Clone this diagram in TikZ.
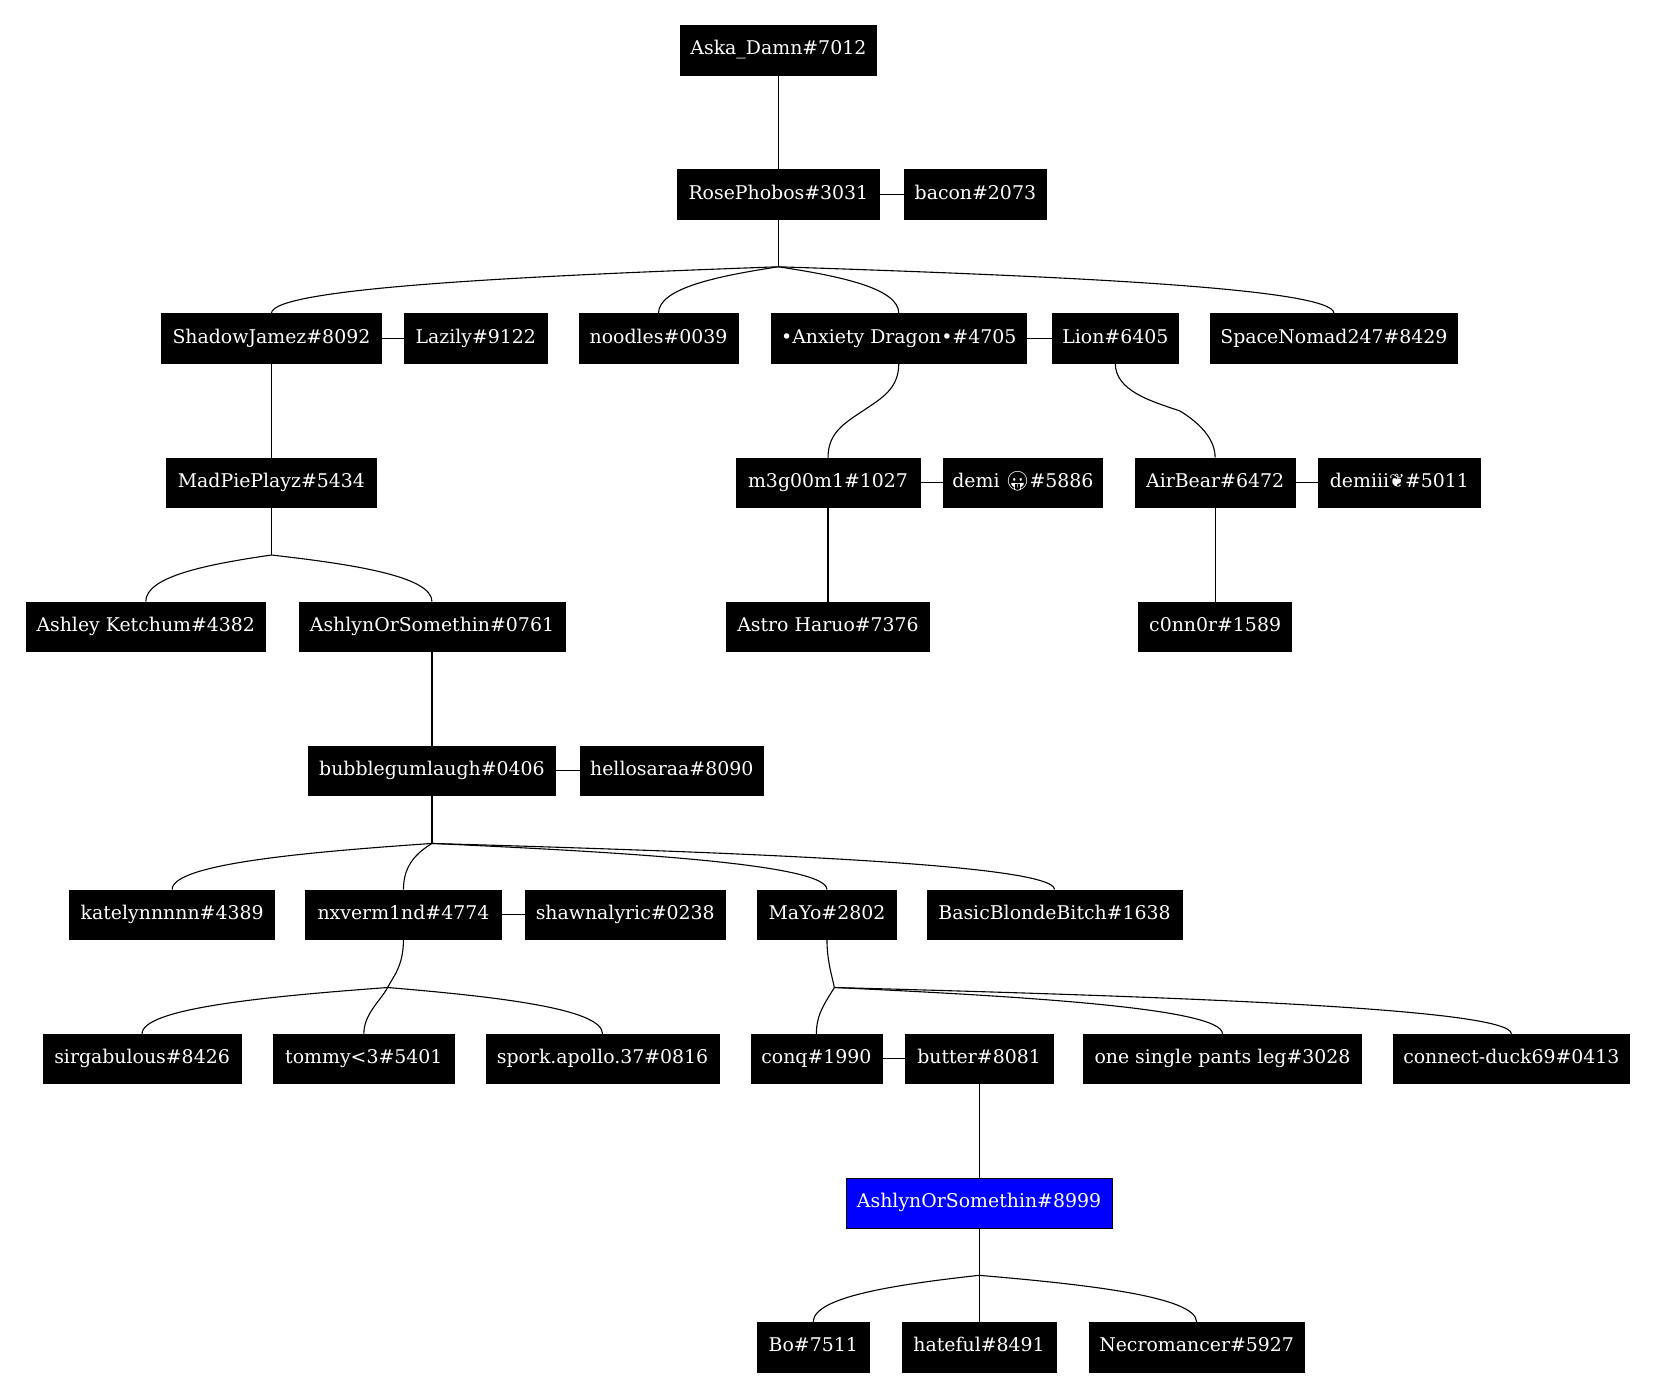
\documentclass[tikz,border=0pt]{standalone}
\usepackage{fontspec}
\usetikzlibrary{calc}
\newfontfamily\dvserif{DejaVu Serif}
\newfontfamily\emofont{Noto Emoji}
\newfontfamily\dvsans{DejaVu Sans}
\newdimen\unitpx \unitpx=0.766pt
\newcommand\N[5]{\node[gvbox, minimum width=#4\unitpx] (#1) at (#2,#3) {#5};}
\newcommand\fan[2]{\draw[gvedge] (#1) .. controls ($(#1)!.5!(#2.north)+(0,-0.4*44.5+0.1*44.5)$) and ($(#2.north)+(0,-24)$) .. (#2.north);}
\begin{document}
\begin{tikzpicture}[x=0.766pt,y=-0.766pt,
  gvbox/.style={draw=black, fill=black, text=white, inner sep=0pt,
    minimum height=47\unitpx, text height=10pt, text depth=3pt,
    font=\dvserif\fontsize{13.7}{16}\selectfont},
  gvedge/.style={draw=black, line width=0.8pt}]
\useasboundingbox (0,0) rectangle (1567,1323.7);
% row 0
\N{aska}{737}{47.5}{186}{Aska\_Damn\#7012}
% row 1
\N{rose}{737}{184}{191}{RosePhobos\#3031}
\N{bacon}{923.5}{184}{135}{bacon\#2073}
% row 2
\N{shadow}{257}{320.4}{208}{ShadowJamez\#8092}
\N{lazily}{450.5}{320.4}{135}{Lazily\#9122}
\N{noodles}{623.5}{320.4}{151}{noodles\#0039}
\N{anxiety}{851}{320.4}{242}{•Anxiety Dragon•\#4705}
\N{lion}{1056}{320.4}{120}{Lion\#6405}
\N{space}{1263}{320.4}{234}{SpaceNomad247\#8429}
% row 3
\N{madpie}{257}{457}{199}{MadPiePlayz\#5434}
\N{meg}{784}{457}{174}{m3g00m1\#1027}
\N{demi}{968.5}{457}{151}{demi {\emofont 😛}\#5886}
\N{airbear}{1150.5}{457}{151}{AirBear\#6472}
\N{demiii}{1325}{457}{154}{demiii{\dvsans ❦}\#5011}
% row 4
\N{ashley}{138}{593.3}{226}{Ashley Ketchum\#4382}
\N{ashlyn}{409}{593.3}{252}{AshlynOrSomethin\#0761}
\N{astro}{784}{593.3}{192}{Astro Haruo\#7376}
\N{connor}{1150.5}{593.3}{145}{c0nn0r\#1589}
% row 5
\N{bubble}{409}{729.7}{234}{bubblegumlaugh\#0406}
\N{hello}{636}{729.7}{174}{hellosaraa\#8090}
% row 6
\N{kate}{163}{866}{194}{katelynnnnn\#4389}
\N{nx}{382}{866}{186}{nxverm1nd\#4774}
\N{shawn}{592}{866}{190}{shawnalyric\#0238}
\N{mayo}{783}{866}{132}{MaYo\#2802}
\N{basic}{998.5}{866}{241}{BasicBlondeBitch\#1638}
% row 7
\N{sirg}{134.5}{1002.6}{187}{sirgabulous\#8426}
\N{tommy}{344.5}{1002.6}{171}{tommy<3\#5401}
\N{spork}{570.5}{1002.6}{221}{spork.apollo.37\#0816}
\N{conq}{773}{1002.6}{124}{conq\#1990}
\N{butter}{927}{1002.6}{140}{butter\#8081}
\N{pants}{1157.5}{1002.6}{263}{one single pants leg\#3028}
\N{duck}{1431}{1002.6}{224}{connect-duck69\#0413}
% row 8
\node[gvbox, fill=blue, minimum width=252\unitpx] (blue) at (927,1139) {AshlynOrSomethin\#8999};
% row 9
\N{bo}{770}{1275.5}{106}{Bo\#7511}
\N{hateful}{927}{1275.5}{146}{hateful\#8491}
\N{necro}{1133}{1275.5}{204}{Necromancer\#5927}

% junctions
\coordinate (jR) at (737,252.6);
\coordinate (jX) at (817,389);
\coordinate (jL) at (1117,389);
\coordinate (jM) at (257,525.5);
\coordinate (jU) at (409,798.6);
\coordinate (jN) at (367,935);
\coordinate (jY) at (790,935);
\coordinate (jZ) at (927,1207.5);

% partner edges
\draw[gvedge] (rose.east) -- (bacon.west);
\draw[gvedge] (shadow.east) -- (lazily.west);
\draw[gvedge] (anxiety.east) -- (lion.west);
\draw[gvedge] (meg.east) -- (demi.west);
\draw[gvedge] (airbear.east) -- (demiii.west);
\draw[gvedge] (bubble.east) -- (hello.west);
\draw[gvedge] (nx.east) -- (shawn.west);
\draw[gvedge] (conq.east) -- (butter.west);

% straight parent-child
\draw[gvedge] (aska.south) -- (rose.north);
\draw[gvedge] (shadow.south) -- (madpie.north);
\draw[gvedge] (meg.south) -- (astro.north);
\draw[gvedge] (airbear.south) -- (connor.north);
\draw[gvedge] (ashlyn.south) -- (bubble.north);
\draw[gvedge] (butter.south) -- (blue.north);

% parent to junction
\draw[gvedge] (rose.south) -- (jR);
\draw[gvedge] (madpie.south) -- (jM);
\draw[gvedge] (bubble.south) -- (jU);
\draw[gvedge] (blue.south) -- (jZ);
\draw[gvedge] (anxiety.south) .. controls (851,368) and (835,377) .. (jX);
\draw[gvedge] (jX) .. controls (799,401) and (784,410) .. (meg.north);
\draw[gvedge] (lion.south) .. controls (1056,370) and (1090,380) .. (jL);
\draw[gvedge] (jL) .. controls (1135,400) and (1150.5,415) .. (airbear.north);
\draw[gvedge] (nx.south) .. controls (382,915) and (372,925) .. (jN);
\draw[gvedge] (jN) .. controls (360,948) and (344.5,960) .. (tommy.north);
\draw[gvedge] (mayo.south) .. controls (783,910) and (788,925) .. (jY);
\draw[gvedge] (jY) .. controls (781,950) and (773,960) .. (conq.north);

% fans
\fan{jR}{shadow}
\fan{jR}{noodles}
\fan{jR}{anxiety}
\fan{jR}{space}
\fan{jM}{ashley}
\fan{jM}{ashlyn}
\fan{jU}{kate}
\fan{jU}{nx}
\fan{jU}{mayo}
\fan{jU}{basic}
\fan{jN}{sirg}
\fan{jN}{spork}
\fan{jY}{pants}
\fan{jY}{duck}
\fan{jZ}{bo}
\fan{jZ}{necro}
\draw[gvedge] (jZ) -- (hateful.north);
\end{tikzpicture}
\end{document}
